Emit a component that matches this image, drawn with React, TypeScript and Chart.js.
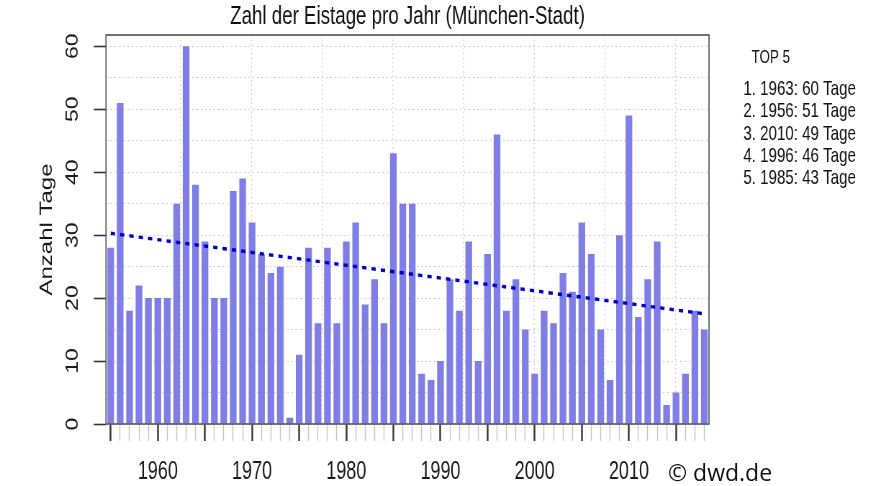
import React, { useEffect, useRef } from 'react';
import { Chart, registerables } from 'chart.js';

Chart.register(...registerables);

// ---- data ----
const years = [
  1955, 1956, 1957, 1958, 1959, 1960, 1961, 1962, 1963, 1964,
  1965, 1966, 1967, 1968, 1969, 1970, 1971, 1972, 1973, 1974,
  1975, 1976, 1977, 1978, 1979, 1980, 1981, 1982, 1983, 1984,
  1985, 1986, 1987, 1988, 1989, 1990, 1991, 1992, 1993, 1994,
  1995, 1996, 1997, 1998, 1999, 2000, 2001, 2002, 2003, 2004,
  2005, 2006, 2007, 2008, 2009, 2010, 2011, 2012, 2013, 2014,
  2015, 2016, 2017, 2018,
];
const iceDays = [
  28, 51, 18, 22, 20, 20, 20, 35, 60, 38,
  29, 20, 20, 37, 39, 32, 27, 24, 25, 1,
  11, 28, 16, 28, 16, 29, 32, 19, 23, 16,
  43, 35, 35, 8, 7, 10, 23, 18, 29, 10,
  27, 46, 18, 23, 15, 8, 18, 16, 24, 21,
  32, 27, 15, 7, 30, 49, 17, 23, 29, 3,
  5, 8, 18, 15,
];
// linear trend: value at first and last year
const trendEnds = [30.3, 17.5];
const yTickValues = [0, 5, 10, 15, 20, 25, 30, 35, 40, 45, 50, 55, 60];
const vGridValues = [7.45, 14.95, 22.45, 29.95, 37.45, 44.95, 52.45, 59.95];

const chartTitle = 'Zahl der Eistage pro Jahr (München-Stadt)';
const yAxisTitle = 'Anzahl Tage';
const topTitle = 'TOP 5';
const creditText = '© dwd.de';

// ---- layout (canvas is drawn wide, then squeezed horizontally) ----
const W = 1224;
const H = 486;
const K = 881 / W;
const FONT = '"Liberation Sans", Arial, Helvetica, sans-serif';

const trendData = years.map((_, i) =>
  i === 0 ? trendEnds[0] : i === years.length - 1 ? trendEnds[1] : null
);

const top5 = years
  .map((y, i) => ({ y, v: iceDays[i] }))
  .sort((a, b) => b.v - a.v)
  .slice(0, 5);

const framePlugin = {
  id: 'frameAndTop',
  beforeDatasetsDraw(chart: any) {
    const { ctx, chartArea } = chart;
    const xs = chart.scales.x;
    ctx.save();
    ctx.strokeStyle = '#c8c8c8';
    ctx.lineWidth = 1.3;
    ctx.setLineDash([1.5, 3]);
    vGridValues.forEach((v) => {
      const px = xs.getPixelForValue(v);
      ctx.beginPath();
      ctx.moveTo(px, chartArea.top);
      ctx.lineTo(px, chartArea.bottom);
      ctx.stroke();
    });
    ctx.restore();
  },
  afterDatasetsDraw(chart: any) {
    const { ctx, chartArea } = chart;
    ctx.save();
    ctx.strokeStyle = '#5a5a5a';
    ctx.lineWidth = 1.7;
    ctx.strokeRect(chartArea.left, chartArea.top, chartArea.right - chartArea.left, chartArea.bottom - chartArea.top);
    ctx.restore();
  },
  afterDraw(chart: any) {
    const { ctx } = chart;
    ctx.save();
    ctx.fillStyle = '#111';
    ctx.textAlign = 'left';
    ctx.textBaseline = 'alphabetic';
    ctx.font = `18.5px ${FONT}`;
    ctx.fillText(topTitle, 751.7 / K, 63.3);
    ctx.font = `21px ${FONT}`;
    const baselines = [95, 117.3, 139.6, 161.7, 183.5];
    top5.forEach((t, i) => {
      ctx.fillText(`${i + 1}. ${t.y}: ${t.v} Tage`, 743.3 / K, baselines[i]);
    });
    ctx.restore();
  },
};

export default function App() {
  const ref = useRef<HTMLCanvasElement | null>(null);

  useEffect(() => {
    if (!ref.current) return;
    const chart = new Chart(ref.current, {
      type: 'bar',
      data: {
        labels: years.map(String),
        datasets: [
          {
            type: 'line',
            label: 'Trend',
            data: trendData as any,
            xAxisID: 'x',
            yAxisID: 'y',
            borderColor: '#0000c8',
            borderWidth: 3.4,
            borderDash: [6, 7],
            borderCapStyle: 'butt',
            pointRadius: 0,
            spanGaps: true,
            fill: false,
            order: 0,
          } as any,
          {
            type: 'bar',
            label: 'Eistage',
            data: iceDays,
            xAxisID: 'x',
            yAxisID: 'y',
            backgroundColor: '#7e7ee6',
            borderWidth: 0,
            barPercentage: 0.71,
            categoryPercentage: 1,
            order: 1,
          } as any,
        ],
      },
      options: {
        responsive: false,
        animation: false,
        devicePixelRatio: 1,
        layout: { padding: { left: 0, right: W - 709 / K, top: 0, bottom: -17 } },
        plugins: {
          legend: { display: false },
          tooltip: { enabled: false },
          title: {
            display: true,
            text: chartTitle,
            fullSize: false,
            color: '#111',
            font: { family: FONT, size: 26, weight: 'normal' },
            padding: { top: 1.5, bottom: 2.3 },
          },
        },
        scales: {
          x: {
            type: 'category',
            offset: true,
            ticks: {
              autoSkip: false,
              maxRotation: 0,
              minRotation: 0,
              padding: 18.5,
              color: '#1a1a1a',
              font: { family: FONT, size: 25, lineHeight: 1 },
              callback: (_v: any, i: number) => (years[i] % 10 === 0 ? String(years[i]) : ''),
            },
            grid: {
              offset: false,
              drawOnChartArea: false,
              drawTicks: true,
              tickLength: 17,
              tickColor: (c: any) => (years[c.index] % 5 === 0 ? '#333' : '#c4c4c4'),
              tickWidth: (c: any) => (years[c.index] % 5 === 0 ? 2.4 : 1.4),
            },
            border: { display: false },
          },
          y: {
            min: 0,
            max: 61.8,
            afterBuildTicks: (s: any) => {
              s.ticks = yTickValues.map((v) => ({ value: v }));
            },
            afterFit: (s: any) => {
              s.width = 106 / K;
            },
            ticks: {
              autoSkip: false,
              minRotation: 90,
              maxRotation: 90,
              crossAlign: 'center',
              padding: 15.4,
              color: '#1a1a1a',
              font: { family: FONT, size: 23 },
              callback: (v: any) => (Number(v) % 10 === 0 ? String(v) : ''),
            },
            grid: {
              color: (c: any) => (c.tick && c.tick.value === 0 ? 'rgba(0,0,0,0)' : '#c8c8c8'),
              lineWidth: 1,
              tickLength: 17,
              tickColor: (c: any) => (c.tick && c.tick.value % 10 === 0 ? '#333' : 'rgba(0,0,0,0)'),
              tickWidth: 1.6,
              tickBorderDash: [],
            },
            border: { display: false, dash: [2, 4] },
            title: {
              display: true,
              text: yAxisTitle,
              color: '#1a1a1a',
              font: { family: FONT, size: 24 },
              padding: { top: 47 / K - 14.4, bottom: 0 },
            },
          },
        } as any,
      },
      plugins: [framePlugin],
    });
    return () => chart.destroy();
  }, []);

  return (
    <div
      style={{
        position: 'fixed',
        left: 0,
        top: 0,
        width: 881,
        height: 486,
        overflow: 'hidden',
        background: '#fff',
      }}
    >
      <canvas
        ref={ref}
        width={W}
        height={H}
        style={{
          position: 'absolute',
          left: 0,
          top: 0,
          width: W,
          height: H,
          transform: `scaleX(${K})`,
          transformOrigin: '0 0',
        }}
      />
      <div
        style={{
          position: 'absolute',
          left: 668,
          top: 457,
          font: '23px "Open Sans", sans-serif',
          lineHeight: '31px',
          color: '#111',
          whiteSpace: 'nowrap',
        }}
      >
        {creditText}
      </div>
    </div>
  );
}
